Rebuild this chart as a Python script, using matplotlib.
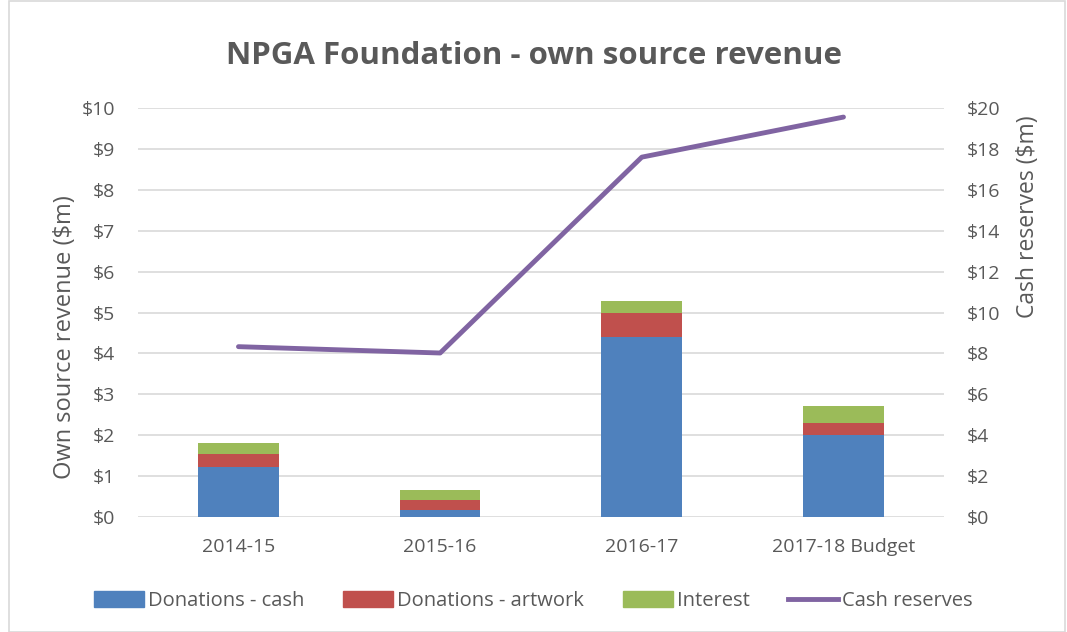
import numpy as np
import matplotlib.pyplot as plt
from matplotlib.patches import Rectangle
from matplotlib.lines import Line2D
from matplotlib.ticker import FuncFormatter

years = ["2014-15", "2015-16", "2016-17", "2017-18 Budget"]
don_cash = [1.23, 0.18, 4.39, 2.00]
don_art = [0.32, 0.24, 0.59, 0.30]
interest = [0.27, 0.24, 0.31, 0.41]
cash_reserves = [8.33, 8.02, 17.6, 19.56]

plt.rcParams['font.family'] = ['Open Sans', 'DejaVu Sans']
grey = '#595959'

fig = plt.figure(figsize=(10.67, 6.32), dpi=100)
ax = fig.add_axes([0.129, 0.182, 0.756, 0.647])
ax2 = ax.twinx()

x = np.arange(len(years))
w = 0.4
c_blue, c_red, c_green, c_purple = '#4f81bd', '#c0504d', '#9bbb59', '#8064a2'
b0 = np.zeros(len(years))
ax.bar(x, don_cash, w, bottom=b0, color=c_blue, zorder=3, label='Donations - cash')
b0 = b0 + np.array(don_cash)
ax.bar(x, don_art, w, bottom=b0, color=c_red, zorder=3, label='Donations - artwork')
b0 = b0 + np.array(don_art)
ax.bar(x, interest, w, bottom=b0, color=c_green, zorder=3, label='Interest')

ax2.plot(x, cash_reserves, color=c_purple, lw=3.5, solid_capstyle='round')

ax.set_xlim(-0.5, 3.5)
ax.set_ylim(0, 10)
ax2.set_ylim(0, 20)
ax.set_yticks(range(0, 11))
ax2.set_yticks(range(0, 21, 2))
ax.yaxis.set_major_formatter(FuncFormatter(lambda v, p: f"${v:.0f}"))
ax2.yaxis.set_major_formatter(FuncFormatter(lambda v, p: f"${v:.0f}"))
ax.set_xticks(x)
ax.set_xticklabels(years)
ax.grid(axis='y', color='#d9d9d9', lw=1.2, zorder=0)
for a in (ax, ax2):
    for s in a.spines.values():
        s.set_visible(False)
    a.tick_params(length=0, labelsize=14, labelcolor=grey, pad=16)
ax.tick_params(axis='x', pad=15)

# axis titles placed like the Excel original (not centred on the axis)
fig.text(65 / 1067, 1 - 337 / 632, "Own source revenue ($m)", rotation=90, ha='center', va='center',
         fontsize=17, color=grey)
fig.text(1028 / 1067, 1 - 217 / 632, "Cash reserves ($m)", rotation=90, ha='center', va='center',
         fontsize=16.5, color=grey)

fig.text(0.5, 0.911, "NPGA Foundation - own source revenue", ha='center', va='center',
         fontsize=22.5, fontweight='bold', color=grey)

handles = [Rectangle((0, 0), 1, 1, color=c_blue), Rectangle((0, 0), 1, 1, color=c_red),
           Rectangle((0, 0), 1, 1, color=c_green), Line2D([], [], color=c_purple, lw=3.5)]
labels = ['Donations - cash', 'Donations - artwork', 'Interest', 'Cash reserves']
fig.legend(handles, labels, loc='center', bbox_to_anchor=(0.5, 0.049), ncol=4, frameon=False,
           fontsize=14.5, labelcolor=grey, handlelength=2.5, handletextpad=0.2, columnspacing=1.9,
           handleheight=0.8)

fig.patches.append(Rectangle((0.008, 0.0), 0.99, 0.998, transform=fig.transFigure,
                             fill=False, edgecolor='#d9d9d9', lw=1.2))

fig.savefig("out.png", dpi=100)
